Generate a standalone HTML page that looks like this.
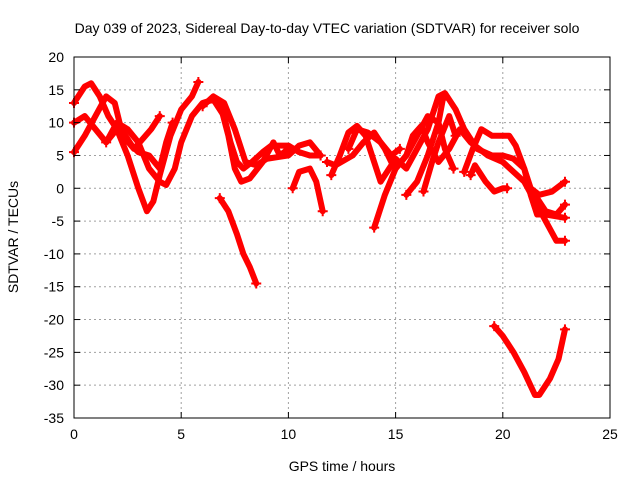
<!DOCTYPE html>
<html><head><meta charset="utf-8"><style>
body{margin:0;background:#fff;}
svg{display:block;font-family:"Liberation Sans",sans-serif;font-size:14px;}
</style></head><body>
<svg id="c" width="640" height="480">
<rect width="640" height="480" fill="#fff"/>
<text x="327" y="33" text-anchor="middle">Day 039 of 2023, Sidereal Day-to-day VTEC variation (SDTVAR) for receiver solo</text>
<text x="342" y="471" text-anchor="middle">GPS time / hours</text>
<text transform="translate(18,237) rotate(-90)" text-anchor="middle">SDTVAR / TECUs</text>
<g id="grid"></g><g id="series"></g><g id="axes"></g>
</svg>
<script>
const xTicks=[0,5,10,15,20,25];
const yTicks=[20,15,10,5,0,-5,-10,-15,-20,-25,-30,-35];
const s1=[[0,13],[0.5,15.5],[0.8,16],[1.2,14],[1.6,11],[2,9],[2.5,5],[3,0],[3.4,-3.5],[3.7,-2],[4,2],[4.5,8],[5,12],[5.5,14],[5.8,16.2]];
const s2=[[0,10],[0.5,11],[1,9],[1.5,7],[2,10],[2.5,9],[3,7],[3.5,3],[4,1],[4.3,0.5],[4.7,3],[5,7],[5.5,11],[6,13],[6.5,13.5],[7,11],[7.3,7],[7.6,4],[7.9,3],[8.3,4],[8.8,5.5],[9.2,6.5],[10,6.5],[10.5,5.5],[11,5],[11.5,5]];
const s3=[[0,5.5],[0.5,8],[1,11],[1.5,14],[1.9,13],[2.2,9],[2.7,6.5],[3,5.5],[3.5,5],[4,3],[4.3,7],[4.6,10]];
const s4=[[1.5,7],[2,9],[2.8,6],[3.2,7.5],[3.6,9],[4,11]];
const s5=[[6,12.5],[6.5,14],[7,13],[7.5,9],[8,4],[8.5,3.5],[9,4.5],[10,5],[10.5,6.5],[11,7],[11.5,5]];
const s6=[[6.8,13],[7.2,8],[7.5,3],[7.8,1],[8.2,1.5],[8.8,4],[9.3,7],[9.6,5],[10,6]];
const s7=[[6.8,-1.5],[7.2,-3.5],[7.6,-7],[7.9,-10],[8.2,-12],[8.5,-14.5]];
const s8=[[10.2,0],[10.5,2.5],[11,3],[11.3,1],[11.6,-3.5]];
const s9=[[12,2],[12.4,5],[12.8,8.5],[13.2,9.5],[13.6,8],[14,4],[14.3,1],[14.6,2.5],[15,4.5],[15.5,3],[16,6],[16.5,9],[17,14],[17.3,14.5],[17.8,12],[18.2,9],[18.8,6],[19.5,5],[20,5],[20.5,4.5],[21,3],[21.3,-1],[21.6,-4],[22,-4],[22.9,-4.5]];
const s10=[[11.8,4],[12.2,3.5],[13,5],[13.5,7],[14,8.5],[14.5,6],[14.8,4],[15,3],[15.5,5],[15.8,8],[16.2,9.5],[16.5,7],[17,4],[17.5,6],[18,9],[18.5,7],[19.3,5],[20,4],[21,1],[21.5,-2],[22,-5],[22.5,-8],[22.9,-8]];
const s11=[[12.8,6],[13.2,9],[13.7,8.5],[14.3,7],[14.8,5],[15.2,6]];
const s12=[[14,-6],[14.5,-1],[15,3],[15.5,5],[16,8],[16.5,11],[17,10],[17.3,6],[17.7,3]];
const s13=[[15.5,-1],[16,1],[16.5,5],[17,10],[17.2,13.5]];
const s14=[[16.3,-0.5],[16.7,4],[17,7],[17.5,11],[17.8,8]];
const s15=[[18.2,2.5],[18.6,6],[19,9],[19.5,8],[20,8],[20.3,8],[20.6,6.5],[21,3],[21.3,0],[21.7,-1],[22.3,-0.5],[22.9,1]];
const s16=[[18.5,2],[18.7,3.5],[19.2,1],[19.6,-0.5],[20,0],[20.2,0]];
const s17=[[19.6,-21],[20,-22.5],[20.5,-25],[21,-28],[21.5,-31.5],[21.7,-31.5],[22.2,-29],[22.6,-26],[22.9,-21.5]];
const s18=[[21.5,-1],[22,-3.5],[22.5,-4],[22.9,-2.5]];
const allSeries=[s1,s2,s3,s4,s5,s6,s7,s8,s9,s10,s11,s12,s13,s14,s15,s16,s17,s18];
const L=74,R=610,T=57,B=418,NS="http://www.w3.org/2000/svg";
const X=v=>L+(v-0)/25*(R-L);
const Y=v=>T+(20-v)/55*(B-T);
function mk(t,a,p){const e=document.createElementNS(NS,t);for(const k in a)e.setAttribute(k,a[k]);p.appendChild(e);return e;}
const grid=document.getElementById('grid'),axes=document.getElementById('axes'),ser=document.getElementById('series');
xTicks.forEach(t=>{
  if(t>0&&t<25){const g=mk('line',{x1:X(t),x2:X(t),y1:T,y2:B,stroke:'#a0a0a0','stroke-dasharray':'2,3'},grid);
  
  }
  mk('line',{x1:X(t),x2:X(t),y1:B,y2:B-6,stroke:'#000'},axes);
  mk('line',{x1:X(t),x2:X(t),y1:T,y2:T+6,stroke:'#000'},axes);
  const tx=mk('text',{x:X(t),y:B+21,'text-anchor':'middle'},axes);tx.textContent=t;
  
  
});
yTicks.forEach(t=>{
  if(t<20&&t>-35){const g=mk('line',{x1:L,x2:R,y1:Y(t),y2:Y(t),stroke:'#a0a0a0','stroke-dasharray':'2,3'},grid);
  
  }
  mk('line',{x1:L,x2:L+6,y1:Y(t),y2:Y(t),stroke:'#000'},axes);
  mk('line',{x1:R,x2:R-6,y1:Y(t),y2:Y(t),stroke:'#000'},axes);
  const tx=mk('text',{x:L-10,y:Y(t)+5,'text-anchor':'end'},axes);tx.textContent=t;
  
  
});
const fr=mk('rect',{x:L,y:T,width:R-L,height:B-T,fill:'none',stroke:'#000'},axes);


allSeries.forEach((s,i)=>{
  const p=mk('polyline',{points:s.map(d=>X(d[0])+','+Y(d[1])).join(' '),fill:'none',stroke:'#ff0000','stroke-width':6,'stroke-linejoin':'round','stroke-linecap':'round'},ser);
  
  
  [s[0],s[s.length-1]].forEach(d=>{
    mk('path',{d:`M${X(d[0])-5},${Y(d[1])}h10M${X(d[0])},${Y(d[1])-5}v10`,stroke:'#ff0000','stroke-width':2},ser);
  });
});
</script>
</body></html>
